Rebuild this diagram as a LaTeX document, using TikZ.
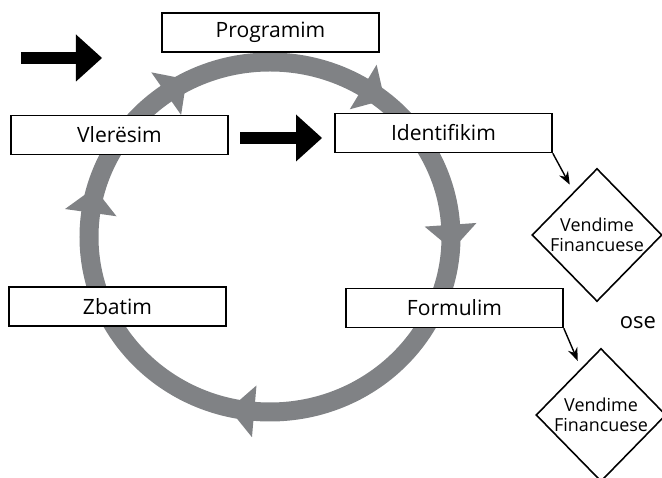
\documentclass[tikz,border=0pt]{standalone}
\usepackage{fontspec}
\setmainfont{Open Sans}
\usetikzlibrary{arrows.meta, shapes.geometric}
\definecolor{ringgray}{RGB}{128,130,133}

\begin{document}
\begin{tikzpicture}
      [box/.style={draw, fill=white, line width=0.9pt, minimum width=4.34cm,
         minimum height=0.78cm, inner sep=0pt, font=\fontsize{12}{14}\selectfont},
       choice/.style={diamond, draw, line width=0.9pt, minimum width=2.6cm,
         minimum height=2.66cm, inner sep=0pt, align=center,
         font=\fontsize{10.2}{11.4}\selectfont},
       bigarrow/.style={line width=0.25cm,
         -{Triangle[width=0.94cm, length=0.52cm, line width=0pt]}},
       link/.style={line width=0.8pt, -{Stealth[length=0.26cm, width=0.2cm]},
         shorten >=0.16cm}]
      \useasboundingbox (0, 0) rectangle (13.24, 9.56);
      % cycle ring
      \coordinate(c) at (5.4, 4.82);
      \draw[ringgray, line width=0.38cm] (c) ellipse [x radius=3.62, y radius=3.5];
      \foreach \a in {125, 59, 4, 265, 172}{
        \path (c) ++(\a:3.62 and 3.5) coordinate(h);
        \fill[ringgray, shift={(h)}, rotate=\a-90] (0, 0.52) -- (0.5, 0) -- (0, -0.52) -- cycle;
      }
      % stages
      \node[box](1) at (5.41, 8.91) {Programim};
      \node[box](2) at (2.39, 6.86) {Vlerësim};
      \node[box](3) at (8.87, 6.9) {Identifikim};
      \node[box](4) at (2.35, 3.43) {Zbatim};
      \node[box](5) at (9.09, 3.4) {Formulim};
      \node[choice](6) at (11.94, 4.86) {Vendime\\Financuese};
      \node[choice](7) at (12.02, 1.26) {Vendime\\Financuese};
      \node[font=\fontsize{12.5}{14}\selectfont](8) at (12.76, 3.1) {ose};
      % arrows
      \coordinate(a1) at (0.42, 8.4);
      \coordinate(b1) at (2.04, 8.4);
      \draw[bigarrow](a1) -- (b1);
      \coordinate(a2) at (4.8, 6.8);
      \coordinate(b2) at (6.44, 6.8);
      \draw[bigarrow](a2) -- (b2);
      \draw[link](3.south east) -- (6);
      \draw[link](5.south east) -- (7);
\end{tikzpicture}
\end{document}
